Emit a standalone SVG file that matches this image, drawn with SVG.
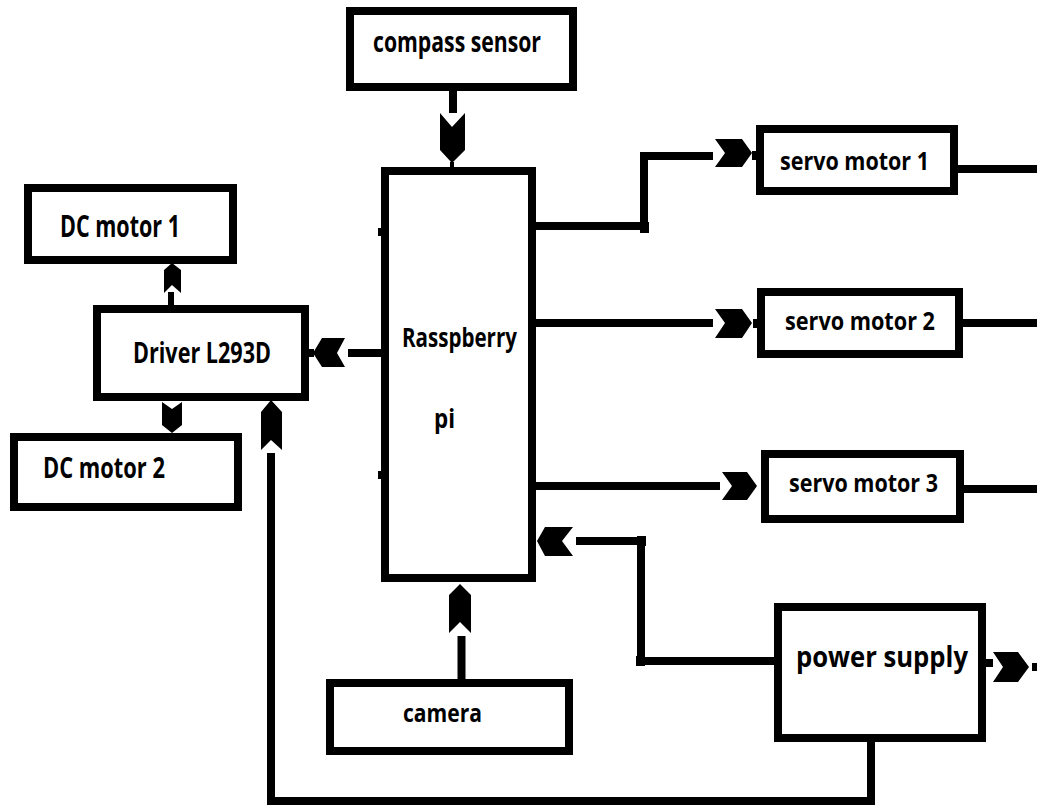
<svg xmlns="http://www.w3.org/2000/svg" width="1037" height="807" viewBox="0 0 1037 807">
<style>
.box{fill:#fff;stroke:#000;stroke-width:8}
.lbl{font-family:"Open Sans","Liberation Sans",Arial,sans-serif;font-weight:bold;fill:#000}
.wire{fill:none;stroke:#000;stroke-width:8;stroke-linecap:butt;stroke-linejoin:miter}
.head{fill:#000;stroke:none}
.dot{fill:#000}
</style>
<rect width="1037" height="807" fill="#fff"/>
<g id="connectors">
  <line class="wire" x1="453" y1="91" x2="453" y2="113"/>
  <polygon class="head" points="440,113 452,127 465,113 465,150 452,163 440,150"/>
  <rect class="dot" x="450" y="162" width="4" height="6"/>
  <line class="wire" x1="171" y1="292" x2="171" y2="305" style="stroke-width:6"/>
  <polygon class="head" points="164,293 164,270 172,263 181,270 181,293 172,285"/>
  <polygon class="head" points="162,402 172,409 182,402 182,425 172,433 162,425"/>
  <line class="wire" x1="348" y1="353" x2="381" y2="353"/>
  <polygon class="head" points="345,338 322,338 313,353 322,367 345,367 337,353"/>
  <rect class="dot" x="309" y="349" width="5" height="8"/>
  <polyline class="wire" points="535,226 644,226 644,156 713,156"/>
  <rect class="dot" x="640" y="222" width="9" height="11"/>
  <polygon class="head" points="715,139 742,139 752,153 742,167 715,167 725,153"/>
  <rect class="dot" x="752" y="151" width="5" height="9"/>
  <line class="wire" x1="535" y1="323" x2="713" y2="323"/>
  <polygon class="head" points="715,309 742,309 752,323 742,338 715,338 725,323"/>
  <rect class="dot" x="753" y="319" width="5" height="9"/>
  <line class="wire" x1="528" y1="486" x2="720" y2="486"/>
  <polygon class="head" points="722,472 747,472 757,486 747,500 722,500 732,486"/>
  <line class="wire" x1="958" y1="169" x2="1037" y2="169"/>
  <line class="wire" x1="963" y1="323" x2="1037" y2="323"/>
  <line class="wire" x1="964" y1="489" x2="1037" y2="489"/>
  <polyline class="wire" points="576,541 641,541 641,661 774,661"/>
  <rect class="dot" x="637" y="536" width="9" height="10"/>
  <rect class="dot" x="636" y="656" width="9" height="10"/>
  <polygon class="head" points="573,527 545,527 537,541 545,556 573,556 562,541"/>
  <line class="wire" x1="461.5" y1="636" x2="461.5" y2="680"/>
  <polygon class="head" points="449,633 449,595 460,584 471,595 471,633 460,622"/>
  <polyline class="wire" points="871,742 871,801 271,801 271,453"/>
  <polygon class="head" points="261,450 261,412 271,400 282,412 282,450 271,440"/>
  <rect class="dot" x="986" y="659" width="7" height="8"/>
  <polygon class="head" points="993,652 1018,652 1029,667 1018,682 993,682 1003,667"/>
  <rect class="dot" x="1032" y="663" width="5" height="8"/>
  <rect class="dot" x="378" y="228" width="4" height="8"/>
  <rect class="dot" x="378" y="471" width="4" height="8"/>
</g>
<g id="compass">
  <rect class="box" x="350" y="11" width="223" height="76"/>
  <text class="lbl" x="373" y="52" font-size="29" textLength="168" lengthAdjust="spacingAndGlyphs">compass sensor</text>
</g>
<g id="dcmotor1">
  <rect class="box" x="28" y="188" width="205" height="72"/>
  <text class="lbl" x="60" y="237" font-size="30" textLength="120" lengthAdjust="spacingAndGlyphs">DC motor 1</text>
</g>
<g id="driver">
  <rect class="box" x="97" y="309" width="208" height="88"/>
  <text class="lbl" x="133" y="363" font-size="28" textLength="138" lengthAdjust="spacingAndGlyphs">Driver L293D</text>
</g>
<g id="dcmotor2">
  <rect class="box" x="14" y="437" width="224" height="70"/>
  <text class="lbl" x="43" y="478" font-size="29" textLength="122" lengthAdjust="spacingAndGlyphs">DC motor 2</text>
</g>
<g id="pi">
  <rect class="box" x="385" y="171" width="147" height="407"/>
  <text class="lbl" x="402" y="347" font-size="27" textLength="115" lengthAdjust="spacingAndGlyphs">Rasspberry</text>
  <text class="lbl" x="434" y="428" font-size="27" textLength="21" lengthAdjust="spacingAndGlyphs">pi</text>
</g>
<g id="servo1">
  <rect class="box" x="760" y="129" width="194" height="62"/>
  <text class="lbl" x="780" y="170" font-size="25" textLength="149" lengthAdjust="spacingAndGlyphs">servo motor 1</text>
</g>
<g id="servo2">
  <rect class="box" x="761" y="292" width="198" height="62"/>
  <text class="lbl" x="785" y="330" font-size="25" textLength="150" lengthAdjust="spacingAndGlyphs">servo motor 2</text>
</g>
<g id="servo3">
  <rect class="box" x="765" y="454" width="195" height="65"/>
  <text class="lbl" x="789" y="492" font-size="25" textLength="149" lengthAdjust="spacingAndGlyphs">servo motor 3</text>
</g>
<g id="camera">
  <rect class="box" x="330" y="683" width="239" height="68"/>
  <text class="lbl" x="403" y="722" font-size="25" textLength="79" lengthAdjust="spacingAndGlyphs">camera</text>
</g>
<g id="powersupply">
  <rect class="box" x="778" y="607" width="204" height="131"/>
  <text class="lbl" x="796" y="667" font-size="29" textLength="172" lengthAdjust="spacingAndGlyphs">power supply</text>
</g>
</svg>
